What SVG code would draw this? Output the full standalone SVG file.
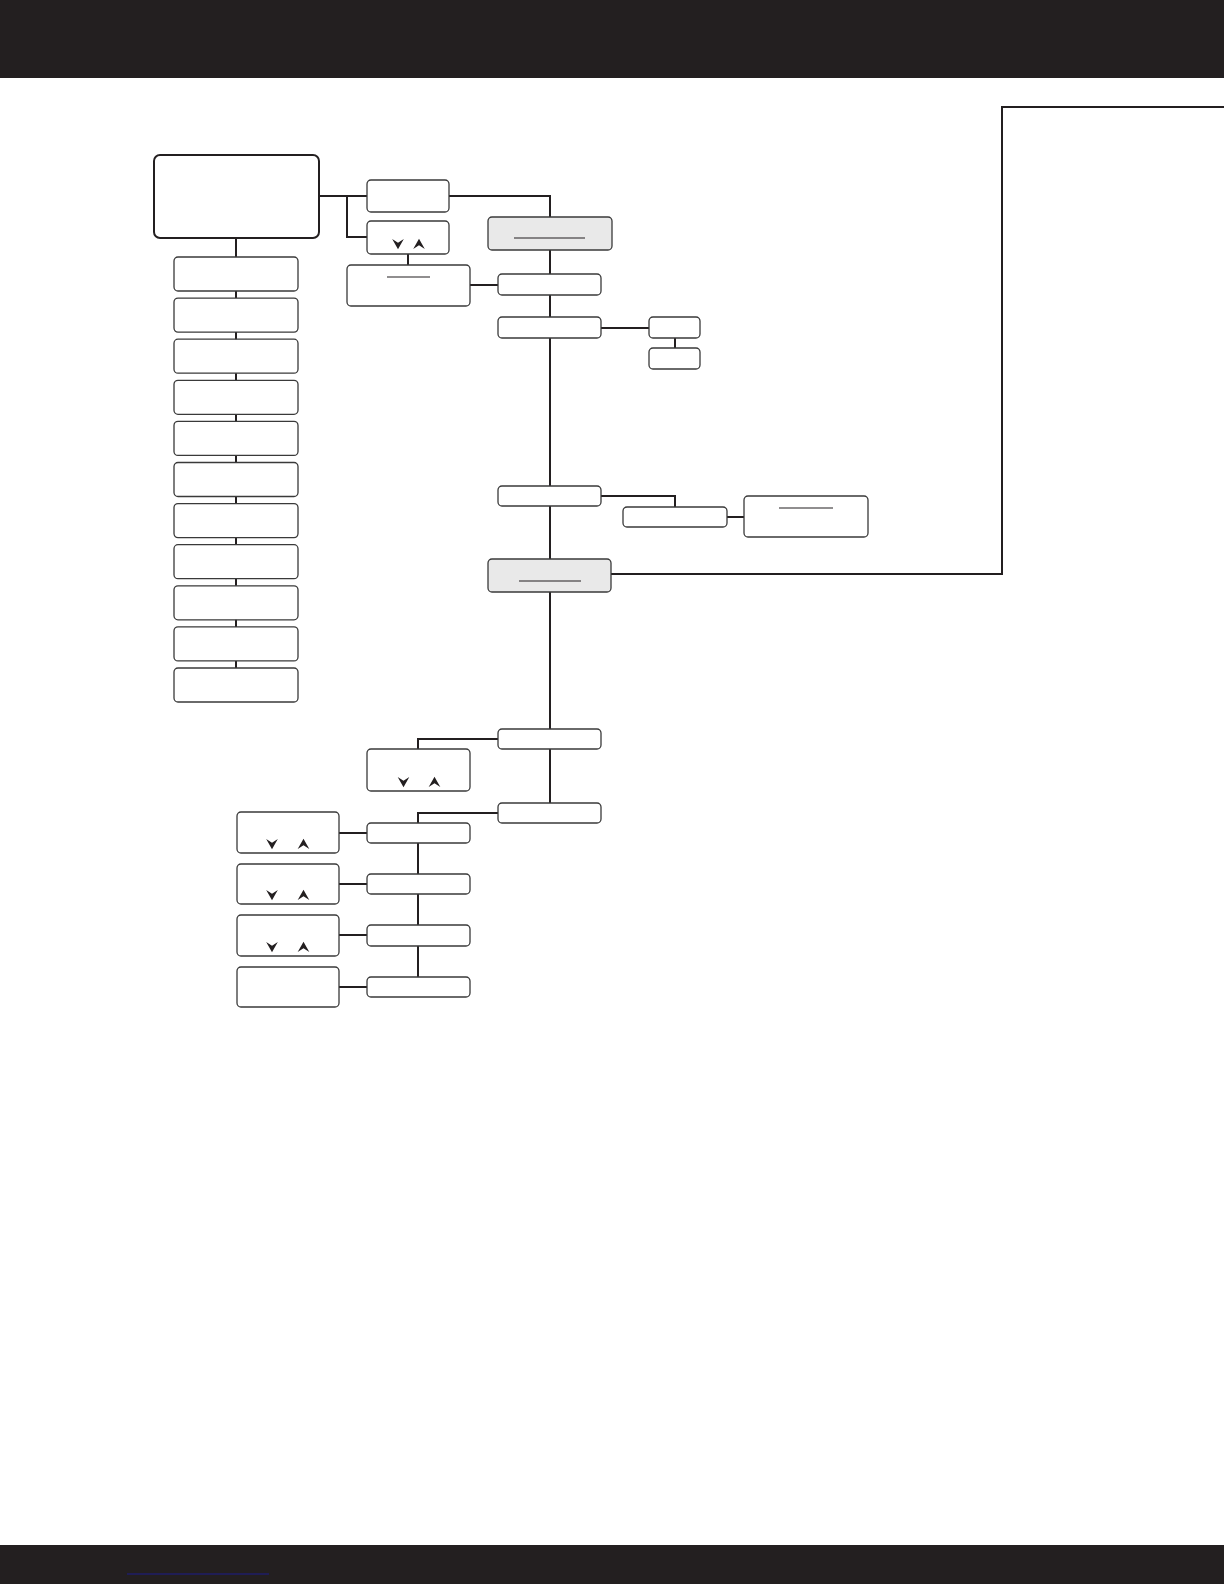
<svg xmlns="http://www.w3.org/2000/svg" width="1224" height="1584" viewBox="0 0 1224 1584">
<style>
.bx{fill:#fff;stroke:#3a3a3a;stroke-width:1.3}
.sh{fill:#e9e9e9;stroke:#3a3a3a;stroke-width:1.3}
.mn{fill:#fff;stroke:#231f20;stroke-width:2}
.ul{stroke:#231f20;stroke-width:1.1}
.cn{fill:none;stroke:#231f20;stroke-width:2}
.ar{fill:#231f20}
</style>
<defs>
<path id="dn" d="M-5.8,-5 L0,-1.2 L5.8,-5 L0,5.2 Z"/>
<path id="up" d="M-5.8,5 L0,1.2 L5.8,5 L0,-5.2 Z"/>
</defs>
<rect x="0" y="0" width="1224" height="78" fill="#231f20"/>
<rect x="0" y="1545" width="1224" height="39" fill="#231f20"/>
<line x1="127" y1="1574" x2="269" y2="1574" stroke="#1c1c8a" stroke-width="1.2"/>

<g id="connectors">
<path class="cn" d="M319,196 H367 M347,196 V237 H367 M449,196 H550 V217"/>
<path class="cn" d="M408,254 V265 M470,285 H498"/>
<path class="cn" d="M236,238 V257"/>
<path class="cn" d="M236,291 V668"/>
<path class="cn" d="M550,250 V274 M550,295 V317 M550,338 V486 M550,506 V559 M550,592 V729 M550,749 V803"/>
<path class="cn" d="M601,328 H649 M675,338 V348"/>
<path class="cn" d="M601,496 H675 V507 M727,517 H744"/>
<path class="cn" d="M611,574 H1002 V107 H1224"/>
<path class="cn" d="M498,739 H418 V749 M498,813 H418 V823 M418,843 V977"/>
<path class="cn" d="M339,833 H367 M339,884 H367 M339,935 H367 M339,987 H367"/>
</g>

<g id="main"><rect class="mn" x="154" y="155" width="165" height="83" rx="6"/></g>
<g id="boxA"><rect class="bx" x="367" y="180" width="82" height="32" rx="4"/></g>
<g id="boxB"><rect class="bx" x="367" y="221" width="82" height="33" rx="4"/>
<use href="#dn" class="ar" x="398" y="244"/><use href="#up" class="ar" x="419" y="244"/></g>
<g id="boxC"><rect class="bx" x="347" y="265" width="123" height="41" rx="4"/>
<line class="ul" x1="387" y1="277" x2="430" y2="277"/></g>

<g id="left1"><rect class="bx" x="174" y="257" width="124" height="34" rx="4"/></g>
<g id="left2"><rect class="bx" x="174" y="298.1" width="124" height="34" rx="4"/></g>
<g id="left3"><rect class="bx" x="174" y="339.2" width="124" height="34" rx="4"/></g>
<g id="left4"><rect class="bx" x="174" y="380.3" width="124" height="34" rx="4"/></g>
<g id="left5"><rect class="bx" x="174" y="421.4" width="124" height="34" rx="4"/></g>
<g id="left6"><rect class="bx" x="174" y="462.5" width="124" height="34" rx="4"/></g>
<g id="left7"><rect class="bx" x="174" y="503.6" width="124" height="34" rx="4"/></g>
<g id="left8"><rect class="bx" x="174" y="544.7" width="124" height="34" rx="4"/></g>
<g id="left9"><rect class="bx" x="174" y="585.8" width="124" height="34" rx="4"/></g>
<g id="left10"><rect class="bx" x="174" y="626.9" width="124" height="34" rx="4"/></g>
<g id="left11"><rect class="bx" x="174" y="668" width="124" height="34" rx="4"/></g>

<g id="shaded1"><rect class="sh" x="488" y="217" width="124" height="33" rx="4"/>
<line class="ul" x1="514" y1="238" x2="585" y2="238"/></g>
<g id="boxD"><rect class="bx" x="498" y="274" width="103" height="21" rx="4"/></g>
<g id="boxE"><rect class="bx" x="498" y="317" width="103" height="21" rx="4"/></g>
<g id="boxF"><rect class="bx" x="649" y="317" width="51" height="21" rx="4"/></g>
<g id="boxG"><rect class="bx" x="649" y="348" width="51" height="21" rx="4"/></g>
<g id="boxH"><rect class="bx" x="498" y="486" width="103" height="20" rx="4"/></g>
<g id="boxI"><rect class="bx" x="623" y="507" width="104" height="20" rx="4"/></g>
<g id="boxJ"><rect class="bx" x="744" y="496" width="124" height="41" rx="4"/>
<line class="ul" x1="779" y1="508" x2="833" y2="508"/></g>
<g id="shaded2"><rect class="sh" x="488" y="559" width="123" height="33" rx="4"/>
<line class="ul" x1="519" y1="581" x2="581" y2="581"/></g>

<g id="boxK"><rect class="bx" x="498" y="729" width="103" height="20" rx="4"/></g>
<g id="boxL"><rect class="bx" x="367" y="749" width="103" height="42" rx="4"/>
<use href="#dn" class="ar" x="403.5" y="782"/><use href="#up" class="ar" x="434.5" y="782"/></g>
<g id="boxM"><rect class="bx" x="498" y="803" width="103" height="20" rx="4"/></g>
<g id="boxN"><rect class="bx" x="367" y="823" width="103" height="20" rx="4"/></g>
<g id="boxO"><rect class="bx" x="367" y="874" width="103" height="20" rx="4"/></g>
<g id="boxP"><rect class="bx" x="367" y="925" width="103" height="21" rx="4"/></g>
<g id="boxQ"><rect class="bx" x="367" y="977" width="103" height="20" rx="4"/></g>
<g id="boxR1"><rect class="bx" x="237" y="812" width="102" height="41" rx="4"/>
<use href="#dn" class="ar" x="272" y="844"/><use href="#up" class="ar" x="303.5" y="844"/></g>
<g id="boxR2"><rect class="bx" x="237" y="864" width="102" height="40" rx="4"/>
<use href="#dn" class="ar" x="272" y="895"/><use href="#up" class="ar" x="303.5" y="895"/></g>
<g id="boxR3"><rect class="bx" x="237" y="915" width="102" height="41" rx="4"/>
<use href="#dn" class="ar" x="272" y="947"/><use href="#up" class="ar" x="303.5" y="947"/></g>
<g id="boxR4"><rect class="bx" x="237" y="967" width="102" height="40" rx="4"/></g>
</svg>
